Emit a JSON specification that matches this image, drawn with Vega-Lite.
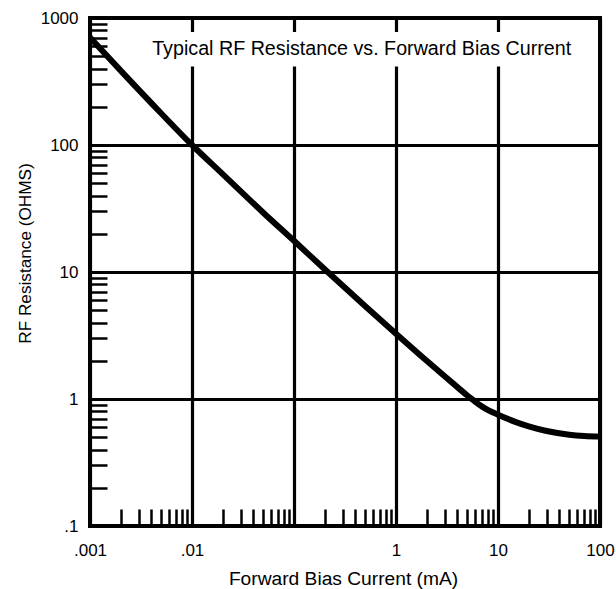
{
  "$schema": "https://vega.github.io/schema/vega-lite/v6.json",
  "width": 510,
  "height": 508,
  "autosize": {"type": "none"},
  "padding": {"left": 90, "top": 18, "right": 16, "bottom": 63},
  "background": "white",
  "config": {
    "view": {"stroke": "black", "strokeWidth": 4},
    "font": "Liberation Sans",
    "axis": {
      "domain": false,
      "gridColor": "black",
      "gridWidth": 3.2,
      "tickColor": "black",
      "tickWidth": 2.5,
      "tickSize": -17,
      "labelColor": "black",
      "labelFont": "Liberation Sans",
      "labelFontSize": 17,
      "labelOverlap": false,
      "labelBound": false,
      "labelFlush": false,
      "titleColor": "black",
      "titleFont": "Liberation Sans",
      "titleFontWeight": "normal"
    }
  },
  "layer": [
    {
      "data": {
        "values": [
          {"current": 0.001, "resistance": 703},
          {"current": 0.002, "resistance": 385},
          {"current": 0.005, "resistance": 177},
          {"current": 0.01, "resistance": 100},
          {"current": 0.02, "resistance": 59},
          {"current": 0.05, "resistance": 29.3},
          {"current": 0.1, "resistance": 17.6},
          {"current": 0.2, "resistance": 10.5},
          {"current": 0.5, "resistance": 5.38},
          {"current": 1, "resistance": 3.27},
          {"current": 2, "resistance": 2.0},
          {"current": 3, "resistance": 1.51},
          {"current": 4, "resistance": 1.24},
          {"current": 5, "resistance": 1.065},
          {"current": 5.5, "resistance": 1.003},
          {"current": 6, "resistance": 0.95},
          {"current": 7, "resistance": 0.871},
          {"current": 8, "resistance": 0.818},
          {"current": 10, "resistance": 0.752},
          {"current": 15, "resistance": 0.658},
          {"current": 20, "resistance": 0.609},
          {"current": 30, "resistance": 0.56},
          {"current": 50, "resistance": 0.524},
          {"current": 70, "resistance": 0.512},
          {"current": 100, "resistance": 0.506}
        ]
      },
      "mark": {"type": "line", "color": "black", "strokeWidth": 6, "interpolate": "monotone"},
      "encoding": {
        "x": {
          "field": "current",
          "type": "quantitative",
          "scale": {"type": "log", "domain": [0.001, 100], "nice": false, "zero": false},
          "axis": {
            "title": "Forward Bias Current (mA)",
            "orient": "bottom",
            "titleFontSize": 19.2,
            "titleBaseline": "alphabetic",
            "titleY": 58,
            "titleX": 253,
            "titleAlign": "center",
            "values": [0.001,0.002,0.003,0.004,0.005,0.006,0.007,0.008,0.009,0.01,0.02,0.03,0.04,0.05,0.06,0.07,0.08,0.09,0.1,0.2,0.3,0.4,0.5,0.6,0.7,0.8,0.9,1,2,3,4,5,6,7,8,9,10,20,30,40,50,60,70,80,90,100],
            "labelExpr": "datum.value == 0.001 ? '.001' : datum.value == 0.01 ? '.01' : datum.value == 1 ? '1' : datum.value == 10 ? '10' : datum.value == 100 ? '100' : ''",
            "labelPadding": 33,
            "gridOpacity": {"condition": {"test": "indexof([0.001,0.01,0.1,1,10,100], datum.value) >= 0", "value": 1}, "value": 0}
          }
        },
        "y": {
          "field": "resistance",
          "type": "quantitative",
          "scale": {"type": "log", "domain": [0.1, 1000], "nice": false, "zero": false},
          "axis": {
            "title": "RF Resistance (OHMS)",
            "orient": "left",
            "titleFontSize": 17.2,
            "titleAngle": -90,
            "titleBaseline": "alphabetic",
            "titleAlign": "center",
            "titleX": -60,
            "titleY": 235,
            "values": [0.1,0.2,0.3,0.4,0.5,0.6,0.7,0.8,0.9,1,2,3,4,5,6,7,8,9,10,20,30,40,50,60,70,80,90,100,200,300,400,500,600,700,800,900,1000],
            "labelExpr": "datum.value == 0.1 ? '.1' : datum.value == 1 ? '1' : datum.value == 10 ? '10' : datum.value == 100 ? '100' : datum.value == 1000 ? '1000' : ''",
            "labelPadding": 29,
            "gridOpacity": {"condition": {"test": "indexof([0.1,1,10,100,1000], datum.value) >= 0", "value": 1}, "value": 0}
          }
        }
      }
    },
    {
      "data": {"values": [{"label": "Typical RF Resistance vs. Forward Bias Current"}]},
      "layer": [
        {
          "mark": {"type": "rect", "fill": "white", "stroke": null},
          "encoding": {
            "x": {"datum": 0.003, "type": "quantitative", "axis": null},
            "x2": {"datum": 60},
            "y": {"datum": 776, "type": "quantitative", "axis": null},
            "y2": {"datum": 415}
          }
        },
        {
          "mark": {"type": "text", "align": "center", "baseline": "alphabetic", "fontSize": 19.7, "font": "Liberation Sans", "color": "black"},
          "encoding": {
            "text": {"field": "label"},
            "x": {"datum": 0.461, "type": "quantitative", "axis": null},
            "y": {"datum": 512, "type": "quantitative", "axis": null}
          }
        }
      ]
    }
  ],
  "resolve": {"axis": {"x": "independent", "y": "independent"}}
}
